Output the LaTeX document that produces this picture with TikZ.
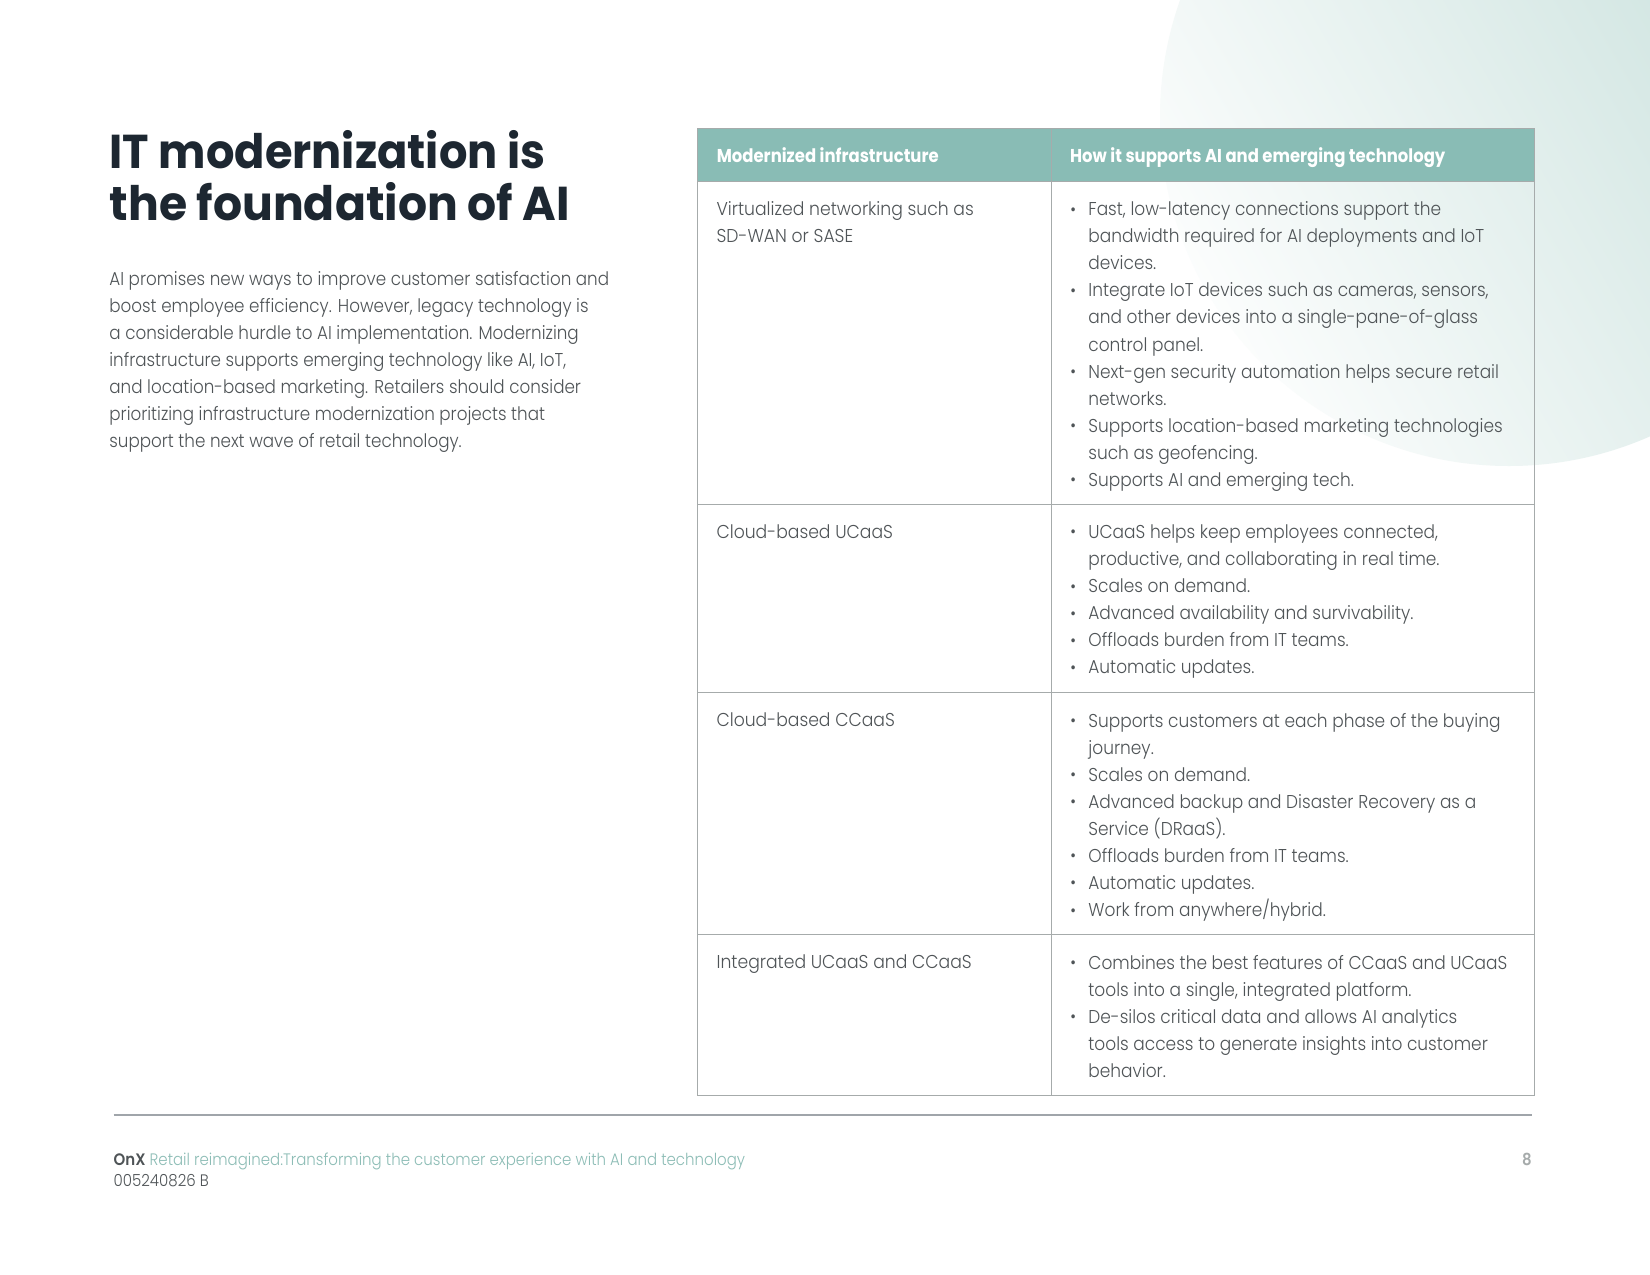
\documentclass[tikz,border=0pt]{standalone}
\usepackage{fontspec}
\setmainfont{Poppins}
\newfontfamily\introfont{Poppins Light}[FakeStretch=0.9]
\newfontfamily\leftfont{Poppins Light}[FakeStretch=0.925]
\newfontfamily\listfont{Poppins Light}[FakeStretch=0.913]
\newfontfamily\headfont{Poppins Bold}[FakeStretch=0.885]
\newfontfamily\titlefont{Poppins Bold}[FakeStretch=0.942]
\newfontfamily\titlefontb{Poppins Bold}[FakeStretch=0.962]
\newfontfamily\footlight{Poppins Light}[FakeStretch=0.903]
\newfontfamily\footbold{Poppins SemiBold}[FakeStretch=0.9]
\definecolor{headteal}{HTML}{89BCB5}
\definecolor{gridgray}{HTML}{A6ABAB}
\definecolor{rulegray}{HTML}{A0A5AA}
\definecolor{inkgray}{HTML}{4F5457}
\definecolor{titleink}{HTML}{1D2731}
\definecolor{circteal}{HTML}{CDE3DF}
\definecolor{footteal}{HTML}{8DBDB6}
\pgfdeclarehorizontalshading{cornerfade}{100bp}{color(0bp)=(white); color(30bp)=(white); color(70bp)=(circteal); color(100bp)=(circteal)}
\newcommand{\bl}{\makebox[18pt][l]{\fontsize{17}{27}\selectfont\raisebox{0.6pt}{\textbullet}}}
\newcommand{\cn}{\hspace*{18pt}}
\tikzset{
  cellrule/.style={draw=gridgray,line width=1pt},
  celltext/.style={anchor=north west,inner sep=0pt,outer sep=0pt,align=left,text=inkgray},
  introtext/.style={celltext,font=\introfont\fontsize{18.6}{27.05}\selectfont},
  lefttext/.style={celltext,font=\leftfont\fontsize{18.6}{27.05}\selectfont},
  listtext/.style={celltext,font=\listfont\fontsize{18.6}{27.05}\selectfont},
  headtext/.style={anchor=base west,inner sep=0pt,text=white,font=\headfont\fontsize{18.6}{27}\selectfont},
  titletext/.style={anchor=base west,inner sep=0pt,align=left,text=titleink},
  foot/.style={anchor=base west,inner sep=0pt,font=\footlight\fontsize{16.6}{20}\selectfont},
}
\begin{document}
\begin{tikzpicture}[x=1pt,y=-1pt]
\useasboundingbox (0,0) rectangle (1650,1275);
\fill[white] (0,0) rectangle (1650,1275);
% corner circle with gradient
\begin{scope}
  \clip (0,0) rectangle (1650,1275);
  \clip (1509,117) circle[radius=349];
  \shade[shading=cornerfade,shading angle=30] (1017,-305) rectangle (1867,545);
\end{scope}
% table
\fill[headteal] (697.6,128.5) rectangle (1534,181);
\draw[cellrule] (697.6,128.5) rectangle (1534,1095);
\draw[cellrule] (1051,128.5) -- (1051,1095);
\draw[cellrule] (697.6,181) -- (1534,181);
\draw[cellrule] (697.6,504) -- (1534,504);
\draw[cellrule] (697.6,692.5) -- (1534,692.5);
\draw[cellrule] (697.6,934.5) -- (1534,934.5);
% rule
\draw[draw=rulegray,line width=2pt] (113.5,1114.5) -- (1532,1114.5);
% title
\node[titletext,font=\titlefont\fontsize{47.5}{52}\selectfont] (title) at (109.5,168) {IT modernization is};
\node[titletext,font=\titlefontb\fontsize{47.5}{52}\selectfont] (title2) at (109.5,220) {the foundation of AI};
% intro
\node[introtext] (intro) at (109.4,271) {AI promises new ways to improve customer satisfaction and\\
boost employee efficiency. However, legacy technology is\\
a considerable hurdle to AI implementation. Modernizing\\
infrastructure supports emerging technology like AI, IoT,\\
and location-based marketing. Retailers should consider\\
prioritizing infrastructure modernization projects that\\
support the next wave of retail technology.};
% header
\node[headtext] (h1) at (716.6,162) {Modernized infrastructure};
\node[headtext] (h2) at (1070,162) {How it supports AI and emerging technology};
% first column
\node[lefttext] (a1) at (716.6,201.6) {Virtualized networking such as\\SD-WAN or SASE};
\node[lefttext] (a2) at (716.6,524.8) {Cloud-based UCaaS};
\node[lefttext] (a3) at (716.6,713.2) {Cloud-based CCaaS};
\node[lefttext] (a4) at (716.6,955.2) {Integrated UCaaS and CCaaS};
% second column
\node[listtext] (b1) at (1070.4,201.8) {\bl Fast, low-latency connections support the\\
\cn bandwidth required for AI deployments and IoT\\
\cn devices.\\
\bl Integrate IoT devices such as cameras, sensors,\\
\cn and other devices into a single-pane-of-glass\\
\cn control panel.\\
\bl Next-gen security automation helps secure retail\\
\cn networks.\\
\bl Supports location-based marketing technologies\\
\cn such as geofencing.\\
\bl Supports AI and emerging tech.};
\node[listtext] (b2) at (1070.4,524.8) {\bl UCaaS helps keep employees connected,\\
\cn productive, and collaborating in real time.\\
\bl Scales on demand.\\
\bl Advanced availability and survivability.\\
\bl Offloads burden from IT teams.\\
\bl Automatic updates.};
\node[listtext] (b3) at (1070.4,713.2) {\bl Supports customers at each phase of the buying\\
\cn journey.\\
\bl Scales on demand.\\
\bl Advanced backup and Disaster Recovery as a\\
\cn Service (DRaaS).\\
\bl Offloads burden from IT teams.\\
\bl Automatic updates.\\
\bl Work from anywhere/hybrid.};
\node[listtext] (b4) at (1070.4,955.2) {\bl Combines the best features of CCaaS and UCaaS\\
\cn tools into a single, integrated platform.\\
\bl De-silos critical data and allows AI analytics\\
\cn tools access to generate insights into customer\\
\cn behavior.};
% footer
\node[foot,text=footteal] (f1) at (113.5,1165) {{\footbold\color{inkgray}OnX} Retail reimagined:Transforming the customer experience with AI and technology};
\node[foot,text=inkgray] (f2) at (113.5,1186) {005240826 B};
\node[anchor=base east,inner sep=0pt,text=gridgray,font=\footbold\fontsize{16.6}{20}\selectfont] (pg) at (1532,1165) {8};
\end{tikzpicture}
\end{document}
